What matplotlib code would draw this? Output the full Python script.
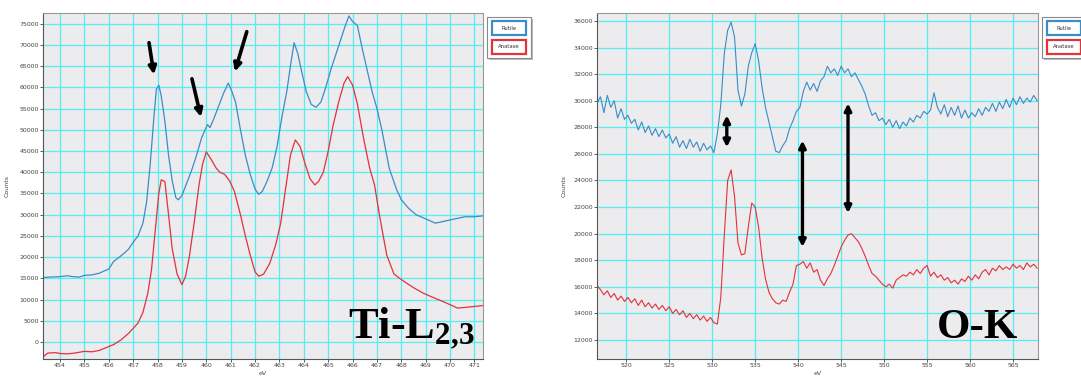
import matplotlib.pyplot as plt
from matplotlib.patches import Rectangle

# ---------------- data ----------------
# Ti-L2,3 edge (left panel)
ti_ev_rutile = [453.3, 453.6, 454.0, 454.3, 454.5, 454.8, 455.0, 455.3, 455.6, 456.0,
                456.2, 456.5, 456.8, 457.0, 457.2, 457.4, 457.55, 457.7, 457.85, 457.95,
                458.05, 458.15, 458.3, 458.45, 458.6, 458.75, 458.85, 459.0, 459.2, 459.4,
                459.6, 459.8, 459.95, 460.05, 460.15, 460.3, 460.5, 460.7, 460.9, 461.05,
                461.2, 461.4, 461.6, 461.8, 462.0, 462.15, 462.3, 462.5, 462.7, 462.9,
                463.1, 463.3, 463.45, 463.6, 463.75, 463.9, 464.1, 464.3, 464.5, 464.7,
                464.9, 465.1, 465.3, 465.5, 465.7, 465.85, 466.0, 466.2, 466.4, 466.6,
                466.8, 467.0, 467.2, 467.5, 467.8, 468.0, 468.3, 468.6, 469.0, 469.4,
                469.8, 470.2, 470.6, 471.0, 471.5]
ti_rutile = [15200, 15300, 15400, 15600, 15400, 15300, 15700, 15800, 16200, 17200,
             19000, 20300, 21800, 23500, 25000, 28000, 33000, 42000, 53000, 59500,
             60500, 58000, 52000, 44000, 38000, 34000, 33500, 34500, 37500, 40500,
             44000, 48000, 50000, 51200, 50500, 52500, 55500, 58500, 61000, 59000,
             56500, 50000, 44000, 39500, 36000, 34800, 35500, 38000, 41000, 46000,
             53000, 59000, 65000, 70500, 68000, 64000, 59000, 56000, 55300, 56500,
             60000, 64000, 67500, 71000, 74500, 76800, 75500, 74500, 69000, 64000,
             59000, 55000, 50000, 41000, 36000, 33500, 31500, 30000, 29000, 28000,
             28500, 29000, 29500, 29500, 29800]

ti_ev_anatase = [453.3, 453.5, 453.8, 454.0, 454.3, 454.6, 455.0, 455.3, 455.6, 455.9,
                 456.2, 456.5, 456.8, 457.0, 457.2, 457.4, 457.6, 457.75, 457.9, 458.05,
                 458.15, 458.3, 458.45, 458.6, 458.8, 459.0, 459.15, 459.3, 459.5, 459.7,
                 459.85, 460.0, 460.2, 460.4, 460.55, 460.75, 460.95, 461.15, 461.4, 461.6,
                 461.8, 462.0, 462.15, 462.35, 462.6, 462.85, 463.05, 463.25, 463.45, 463.65,
                 463.85, 464.05, 464.25, 464.45, 464.6, 464.8, 465.0, 465.2, 465.45, 465.65,
                 465.8, 466.0, 466.2, 466.45, 466.7, 466.9, 467.1, 467.4, 467.7, 468.05,
                 468.5, 468.9, 469.3, 469.6, 470.0, 470.3, 470.7, 471.2, 471.5]
ti_anatase = [-3500, -2600, -2500, -2700, -2800, -2600, -2200, -2300, -2000, -1300,
              -600, 500, 2000, 3200, 4500, 7000, 11500, 17000, 26000, 35000,
              38200, 37800, 30000, 22000, 16000, 13500, 15500, 20000, 28000, 37000,
              42000, 44800, 43000, 41000, 40000, 39500, 38000, 35500, 30000, 25000,
              20500, 16500, 15500, 16000, 18500, 23000, 28000, 36000, 44000, 47600,
              46000, 42000, 38500, 37000, 37800, 40000, 45000, 51000, 57000, 61000,
              62500, 60500, 56000, 48000, 41000, 37000, 30000, 20500, 16000, 14500,
              12800, 11500, 10500, 9800, 8800, 8000, 8200, 8500, 8700]

# O-K edge (right panel)
ok_ev = [516.6, 517.0, 517.4, 517.8, 518.2, 518.6, 519.0, 519.4, 519.8, 520.2,
         520.6, 521.0, 521.4, 521.8, 522.2, 522.6, 523.0, 523.4, 523.8, 524.2,
         524.6, 525.0, 525.4, 525.8, 526.2, 526.6, 527.0, 527.4, 527.8, 528.2,
         528.6, 529.0, 529.4, 529.8, 530.2, 530.6, 531.0, 531.4, 531.8, 532.2,
         532.6, 533.0, 533.4, 533.8, 534.2, 534.6, 535.0, 535.4, 535.8, 536.2,
         536.6, 537.0, 537.4, 537.8, 538.2, 538.6, 539.0, 539.4, 539.8, 540.2,
         540.6, 541.0, 541.4, 541.8, 542.2, 542.6, 543.0, 543.4, 543.8, 544.2,
         544.6, 545.0, 545.4, 545.8, 546.2, 546.6, 547.0, 547.4, 547.8, 548.2,
         548.6, 549.0, 549.4, 549.8, 550.2, 550.6, 551.0, 551.4, 551.8, 552.2,
         552.6, 553.0, 553.4, 553.8, 554.2, 554.6, 555.0, 555.4, 555.8, 556.2,
         556.6, 557.0, 557.4, 557.8, 558.2, 558.6, 559.0, 559.4, 559.8, 560.2,
         560.6, 561.0, 561.4, 561.8, 562.2, 562.6, 563.0, 563.4, 563.8, 564.2,
         564.6, 565.0, 565.4, 565.8, 566.2, 566.6, 567.0, 567.4, 567.8]
ok_rutile = [29800, 30300, 29100, 30400, 29500, 30000, 28700, 29400, 28600, 28900,
             28300, 28600, 27800, 28400, 27600, 28100, 27400, 27900, 27300, 27800,
             27200, 27500, 26800, 27300, 26500, 27000, 26400, 27100, 26500, 26900,
             26200, 26800, 26300, 26600, 26100, 27500, 29700, 33500, 35300, 35900,
             34800, 30800, 29600, 30500, 32600, 33600, 34300, 33000, 31000, 29500,
             28400, 27300, 26200, 26100, 26600, 27000, 27900, 28500, 29200, 29500,
             30700, 31400, 30800, 31300, 30700, 31500, 31800, 32600, 32100, 32400,
             31900, 32600, 32100, 32400, 31800, 32100, 31600, 31100, 30500, 29600,
             28900, 29100, 28500, 28700, 28200, 28600, 28000, 28500, 27900, 28400,
             28100, 28700, 28400, 28900, 28700, 29200, 29000, 29300, 30600, 29500,
             29000, 29700, 28800, 29500, 28900, 29600, 28700, 29300, 28700, 29100,
             28800, 29400, 28900, 29500, 29200, 29800, 29200, 29900, 29400, 30100,
             29500, 30200, 29700, 30300, 29800, 30200, 29900, 30400, 30000]
ok_anatase = [16100, 15800, 15400, 15700, 15200, 15500, 15000, 15300, 14900, 15200,
              14800, 15100, 14600, 15000, 14500, 14800, 14400, 14700, 14300, 14600,
              14200, 14500, 14000, 14300, 13900, 14200, 13700, 14000, 13600, 13900,
              13500, 13800, 13400, 13700, 13300, 13200, 15200, 19800, 24000, 24800,
              22800, 19300, 18400, 18500, 20500, 22300, 22000, 20500, 18200, 16600,
              15600, 15100, 14800, 14700, 15000, 14900, 15600, 16200, 17600, 17700,
              17900, 17400, 17800, 17100, 17300, 16500, 16100, 16600, 17000, 17600,
              18300, 19000, 19500, 19900, 20000, 19700, 19400, 18900, 18300, 17600,
              17000, 16800, 16500, 16200, 16000, 16200, 15900, 16500, 16700, 16900,
              16800, 17100, 16900, 17300, 17000, 17400, 17600, 16800, 17100, 16700,
              16900, 16500, 16700, 16300, 16500, 16200, 16600, 16400, 16800, 16500,
              16900, 16600, 17100, 17300, 16900, 17400, 17200, 17600, 17300, 17500,
              17300, 17700, 17400, 17600, 17300, 17800, 17500, 17700, 17400]

ti_xticks = list(range(454, 472))
ti_yticks = list(range(0, 80000, 5000))
ok_xticks = list(range(520, 570, 5))
ok_yticks = list(range(12000, 38000, 2000))

BLUE = '#3a8dc6'
RED = '#e2323c'
W, H = 1081, 376

plt.rcParams['mathtext.fontset'] = 'custom'
plt.rcParams['mathtext.rm'] = 'Liberation Serif:bold'
plt.rcParams['mathtext.default'] = 'rm'

fig = plt.figure(figsize=(W / 100, H / 100), dpi=100)
ax1 = fig.add_axes([43 / W, 17 / H, 440 / W, 346 / H])
ax2 = fig.add_axes([597 / W, 17 / H, 441 / W, 346 / H])


def style(ax):
    ax.set_facecolor('#ecebee')
    ax.grid(True, color='#55eeee', lw=0.9)
    ax.set_axisbelow(True)
    ax.tick_params(labelsize=4.5, length=2, width=0.6, colors='#444', pad=1)
    for side in ['left', 'bottom']:
        ax.spines[side].set_color('#555')
    for side in ['top', 'right']:
        ax.spines[side].set_color('#999')
    ax.set_ylabel('Counts', fontsize=4.5, color='#444')
    ax.set_xlabel('eV', fontsize=4.5, color='#444', va='top')


def legend_box(x0):
    # outer frame with a little shadow, then two coloured boxes
    fig.patches.append(Rectangle(((x0 + 2) / W, (H - 60) / H), 44 / W, 41 / H,
                                 transform=fig.transFigure, fc='#bbbbbb', ec='none'))
    fig.patches.append(Rectangle((x0 / W, (H - 58) / H), 44 / W, 41 / H,
                                 transform=fig.transFigure, fc='white', ec='#888', lw=0.8))
    for name, col, top in [('Rutile', BLUE, 21), ('Anatase', RED, 40)]:
        fig.patches.append(Rectangle(((x0 + 5) / W, (H - top - 14) / H), 34 / W, 14 / H,
                                     transform=fig.transFigure, fc='white', ec=col, lw=1.6))
        fig.text((x0 + 22) / W, (H - top - 7) / H, name, fontsize=3.8,
                 ha='center', va='center', color='#333')


# ---- left: Ti-L2,3 ----
ax1.plot(ti_ev_rutile, ti_rutile, color=BLUE, lw=0.9)
ax1.plot(ti_ev_anatase, ti_anatase, color=RED, lw=0.9)
ax1.set_xlim(453.3, 471.35)
ax1.set_ylim(-4000, 77500)
ax1.set_xticks(ti_xticks)
ax1.set_yticks(ti_yticks)
style(ax1)
ax1.yaxis.set_label_coords(-0.075, 0.5)
ax1.xaxis.set_label_coords(0.5, -0.035)

arrow = dict(arrowstyle='-|>', color='black', lw=2.6, mutation_scale=11,
             shrinkA=0, shrinkB=0)
ax1.annotate('', xy=(457.85, 63000), xytext=(457.65, 70500), arrowprops=arrow)
ax1.annotate('', xy=(459.78, 53000), xytext=(459.41, 62000), arrowprops=arrow)
ax1.annotate('', xy=(461.17, 63700), xytext=(461.66, 73100), arrowprops=arrow)

fig.text(348 / W, (H - 338) / H, r'Ti-L$_{2{,}3}$', fontsize=32,
         family='Liberation Serif', weight='bold', va='baseline')

# ---- right: O-K ----
ax2.plot(ok_ev, ok_rutile, color=BLUE, lw=0.8)
ax2.plot(ok_ev, ok_anatase, color=RED, lw=0.8)
ax2.set_xlim(516.6, 567.9)
ax2.set_ylim(10570, 36600)
ax2.set_xticks(ok_xticks)
ax2.set_yticks(ok_yticks)
style(ax2)
ax2.yaxis.set_label_coords(-0.068, 0.5)
ax2.xaxis.set_label_coords(0.5, -0.035)

dbl = dict(arrowstyle='<|-|>', color='black', lw=2.4, mutation_scale=10,
           shrinkA=0, shrinkB=0)
ax2.annotate('', xy=(531.7, 26500), xytext=(531.7, 28900), arrowprops=dbl)
ax2.annotate('', xy=(540.5, 19000), xytext=(540.5, 27000), arrowprops=dbl)
ax2.annotate('', xy=(545.8, 21550), xytext=(545.8, 29800), arrowprops=dbl)

fig.text(937 / W, (H - 338) / H, 'O-K', fontsize=31,
         family='Liberation Serif', weight='bold', va='baseline')

legend_box(487)
legend_box(1042)

fig.savefig('out.png', dpi=100)
